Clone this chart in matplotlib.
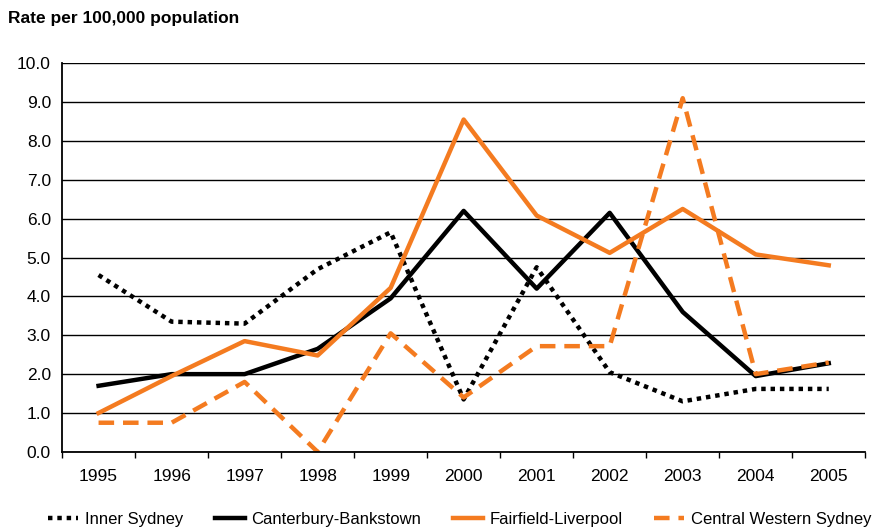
import matplotlib.pyplot as plt
import numpy as np

plt.rcParams['font.family'] = ['Liberation Sans', 'DejaVu Sans']

years = ['1995', '1996', '1997', '1998', '1999', '2000', '2001', '2002', '2003', '2004', '2005']
inner_sydney = [4.55, 3.35, 3.3, 4.7, 5.65, 1.35, 4.75, 2.05, 1.3, 1.62, 1.62]
canterbury = [1.7, 2.0, 2.0, 2.65, 3.95, 6.2, 4.2, 6.15, 3.6, 1.95, 2.28]
fairfield = [1.0, 1.95, 2.85, 2.48, 4.22, 8.55, 6.08, 5.12, 6.25, 5.08, 4.8]
central_western = [0.75, 0.75, 1.8, 0.0, 3.05, 1.4, 2.72, 2.72, 9.1, 2.0, 2.3]

orange = '#F47B20'

fig = plt.figure(figsize=(8.74, 5.31), dpi=100)
ax = fig.add_axes([0.071, 0.149, 0.919, 0.732])

x = np.arange(len(years))
ax.plot(x, inner_sydney, color='black', lw=3.2, linestyle=(0, (1, 1.1)), label='Inner Sydney')
ax.plot(x, canterbury, color='black', lw=3.2, label='Canterbury-Bankstown')
ax.plot(x, fairfield, color=orange, lw=3.2, label='Fairfield-Liverpool')
ax.plot(x, central_western, color=orange, lw=3.2, linestyle=(0, (3.5, 2)), label='Central Western Sydney')

ax.set_xlim(-0.5, len(years) - 0.5)
ax.set_ylim(0, 10)
ax.set_yticks(np.arange(0, 10.1, 1.0))
ax.set_yticklabels([f'{v:.1f}' for v in np.arange(0, 10.1, 1.0)], fontsize=12.5)
ax.tick_params(axis='y', length=0, pad=8)
ax.set_xticks(x)
ax.set_xticklabels(years, fontsize=12.5)
ax.set_xticks(np.arange(-0.5, len(years)), minor=True)
ax.tick_params(axis='x', which='major', length=0, pad=12)
ax.tick_params(axis='x', which='minor', length=4, width=1, direction='out')
ax.grid(axis='y', color='black', lw=1)
ax.set_axisbelow(True)
for s in ['top', 'right']:
    ax.spines[s].set_visible(False)
for s in ['left', 'bottom']:
    ax.spines[s].set_linewidth(1.3)

fig.text(0.009, 0.965, 'Rate per 100,000 population', fontsize=12.5, fontweight='bold', va='center')

fig.legend(loc='center left', bbox_to_anchor=(0.055, 0.022), ncol=4, frameon=False,
           fontsize=12, handlelength=1.8, columnspacing=1.9, handletextpad=0.4,
           borderpad=0, borderaxespad=0)

fig.savefig('out.png', dpi=100)
